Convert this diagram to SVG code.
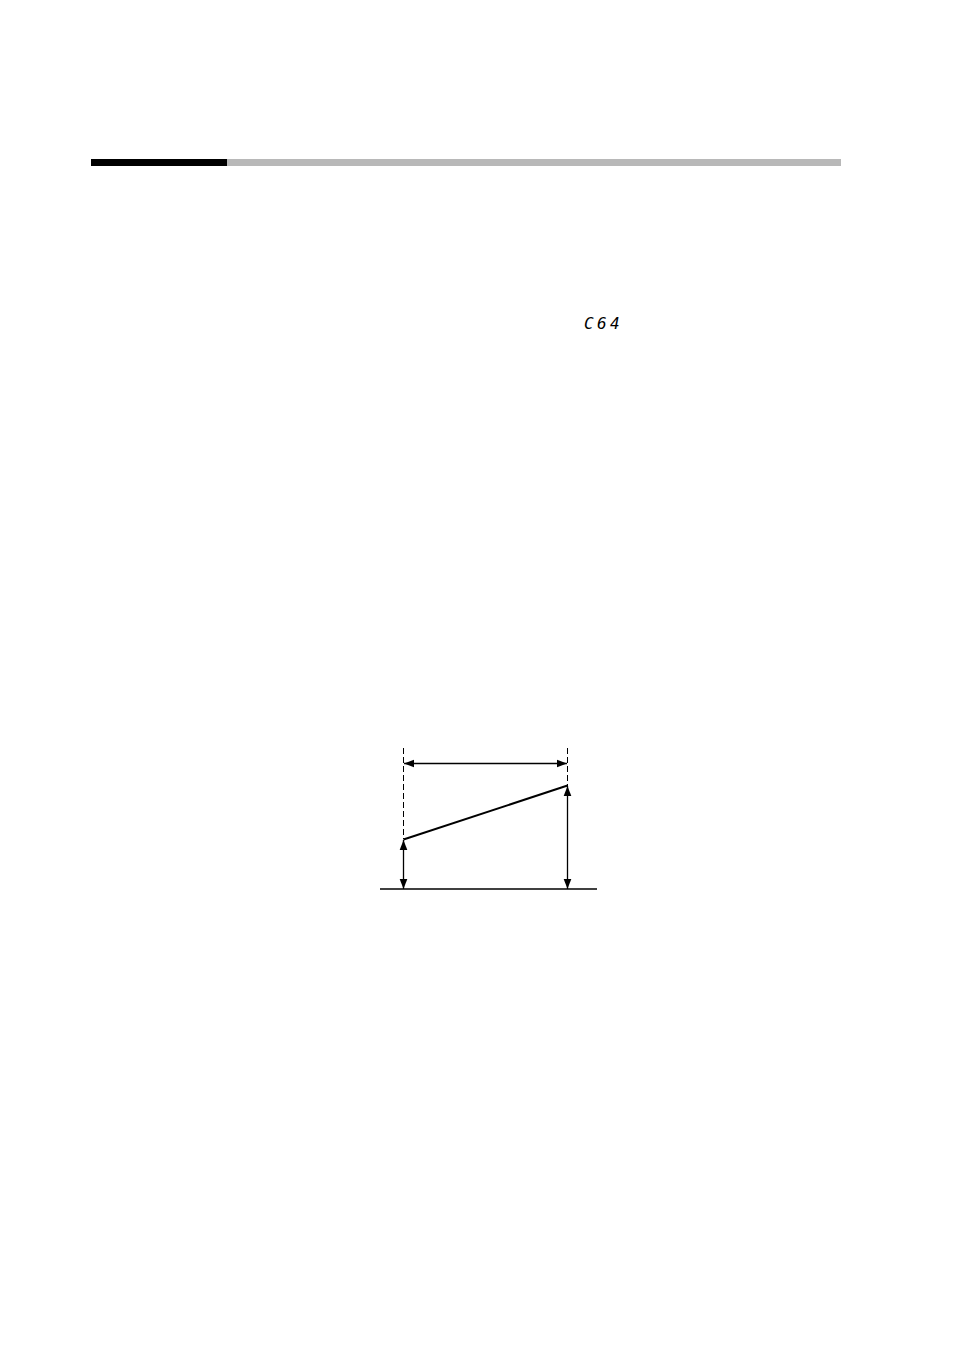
<svg xmlns="http://www.w3.org/2000/svg" width="954" height="1351" viewBox="0 0 954 1351">
<style>
.ln{stroke:#000;stroke-width:1.3;fill:none}
.thick{stroke:#000;stroke-width:2;fill:none}
.dash{stroke:#000;stroke-width:1;stroke-dasharray:6,3;fill:none}
.seg{font-family:"DejaVu Sans Mono",monospace;font-style:italic;font-size:16px;fill:#000}
</style>
<defs>
<marker id="ah" viewBox="0 0 10 10" refX="10" refY="5" markerWidth="10" markerHeight="10" markerUnits="userSpaceOnUse" orient="auto-start-reverse">
<path d="M0,1.2 L10,5 L0,8.8 Z" fill="#000"/>
</marker>
</defs>
<rect width="954" height="1351" fill="#fff"/>
<g id="header">
<rect x="227" y="159" width="614" height="7" fill="#b8b8b8"/>
<rect x="91" y="159" width="136" height="7" fill="#000"/>
</g>
<g id="code">
<text class="seg" x="584" y="329">C</text>
<text class="seg" x="597" y="329">6</text>
<text class="seg" x="610" y="329">4</text>
</g>
<g id="graph">
<line class="ln" x1="380" y1="889" x2="597" y2="889"/>
<line class="dash" x1="403.5" y1="748" x2="403.5" y2="839"/>
<line class="dash" x1="567.5" y1="748" x2="567.5" y2="786"/>
<line class="thick" x1="403.5" y1="839.5" x2="567.5" y2="785.5"/>
</g>
<g id="connectors">
<line class="ln" x1="404" y1="763.5" x2="567" y2="763.5" marker-start="url(#ah)" marker-end="url(#ah)"/>
<line class="ln" x1="403.5" y1="840" x2="403.5" y2="889" marker-start="url(#ah)" marker-end="url(#ah)"/>
<line class="ln" x1="567.5" y1="786" x2="567.5" y2="889" marker-start="url(#ah)" marker-end="url(#ah)"/>
</g>
</svg>
